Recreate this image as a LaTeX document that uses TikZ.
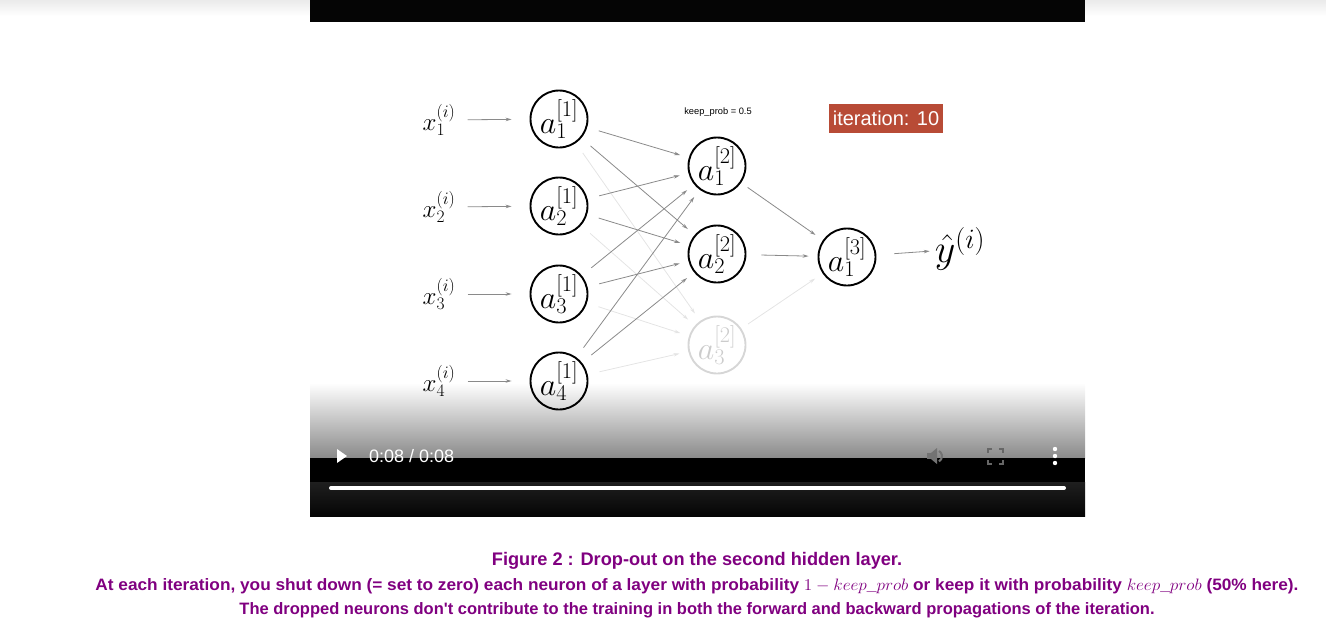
\RequirePackage{fix-cm}
\documentclass[tikz,border=0pt]{standalone}
\usepackage{fontspec}
\newfontfamily\capfont{Liberation Sans}
\usetikzlibrary{arrows.meta}
\definecolor{capcol}{HTML}{800080}
\definecolor{iterred}{HTML}{B84B36}
\definecolor{arrowgray}{HTML}{8A8A8A}
\definecolor{faintgray}{HTML}{E4E4E4}
\begin{document}
\begin{tikzpicture}[x=1pt,y=-1pt,
  neuron/.style={circle, draw=black, line width=1.9pt, minimum size=57pt, inner sep=0pt, font=\fontsize{32}{36}\selectfont},
  ghost/.style={neuron, draw=black!16, text=black!20},
  edge/.style={draw=arrowgray, line width=0.8pt, -{Stealth[length=6pt,width=3.5pt]}},
  faint/.style={edge, draw=faintgray},
  inlabel/.style={inner sep=0pt, font=\fontsize{25}{29}\selectfont},
  captext/.style={anchor=base, text=capcol, inner sep=0pt, font=\capfont\bfseries\fontsize{16.5}{19}\selectfont}]
\useasboundingbox (0,0) rectangle (1326,633);
% page top shade
\shade[top color=black!8, bottom color=white] (0,0) rectangle (1326,16);
% video frame
\fill[black!98] (310,0) rectangle (1085,22);
\shade[top color=white, bottom color=black!46] (310,383) rectangle (1085,458);
\fill[black] (310,458) rectangle (1085,482);
\shade[top color=black!88, bottom color=black!98] (310,482) rectangle (1085,516);
\draw[white, line width=4pt, line cap=round] (331,488) -- (1064,488);
% controls
\fill[white] (337,449) -- (347,456) -- (337,463) -- cycle;
\node[anchor=west, text=white, inner sep=0pt, font=\capfont\fontsize{18}{21}\selectfont] (time) at (369,456) {0:08 / 0:08};
\fill[black!55] (927,453) rectangle (931,459);
\fill[black!55] (931,453) -- (937,448) -- (937,464) -- (931,459) -- cycle;
\draw[black!55, line width=2pt] (939,451) arc[start angle=60, end angle=-60, radius=6pt];
\draw[black!60, line width=1.5pt] (988,453) -- (988,449) -- (992,449);
\draw[black!60, line width=1.5pt] (999,449) -- (1003,449) -- (1003,453);
\draw[black!60, line width=1.5pt] (988,460) -- (988,464) -- (992,464);
\draw[black!60, line width=1.5pt] (999,464) -- (1003,464) -- (1003,460);
\fill[white] (1055,449) circle[radius=2.2pt] (1055,456) circle[radius=2.2pt] (1055,463) circle[radius=2.2pt];
% inputs
\node[inlabel] (x1) at (439,120) {$x^{(i)}_1$};
\node[inlabel] (x2) at (439,207) {$x^{(i)}_2$};
\node[inlabel] (x3) at (439,294) {$x^{(i)}_3$};
\node[inlabel] (x4) at (439,381) {$x^{(i)}_4$};
% layer 1
\node[neuron] (L1) at (559,119) {$a^{[1]}_1$};
\node[neuron] (L2) at (559,206) {$a^{[1]}_2$};
\node[neuron] (L3) at (559,294) {$a^{[1]}_3$};
\node[neuron] (L4) at (559,381) {$a^{[1]}_4$};
% layer 2
\node[neuron] (M1) at (717,166) {$a^{[2]}_1$};
\node[neuron] (M2) at (717,254) {$a^{[2]}_2$};
\node[ghost]  (M3) at (717,345) {$a^{[2]}_3$};
% output
\node[neuron] (O) at (847,257) {$a^{[3]}_1$};
\node[inner sep=0pt, font=\fontsize{40}{44}\selectfont] (yh) at (960,249) {$\hat{y}^{(i)}$};
% labels
\node[inner sep=0pt, font=\capfont\fontsize{9.3}{11}\selectfont] (kp) at (718,112.5) {keep\_prob = 0.5};
\node[fill=iterred, text=white, minimum width=114pt, minimum height=29pt, inner sep=0pt, font=\capfont\fontsize{20}{24}\selectfont] (it) at (886,118.5) {iteration: 10};
% edges input
\foreach \i in {1,2,3,4} \draw[edge, shorten <=12pt, shorten >=18pt] (x\i) -- (L\i);
% layer1 -> layer2
\foreach \i in {1,2,3,4} {
  \draw[edge, shorten <=12pt, shorten >=9pt] (L\i) -- (M1);
  \draw[edge, shorten <=12pt, shorten >=9pt] (L\i) -- (M2);
  \draw[faint, shorten <=12pt, shorten >=9pt] (L\i) -- (M3);
}
% layer2 -> out
\draw[edge, shorten <=8pt, shorten >=9pt] (M1) -- (O);
\draw[edge, shorten <=15pt, shorten >=9pt] (M2) -- (O);
\draw[faint, shorten <=8pt, shorten >=9pt] (M3) -- (O);
\draw[edge, shorten <=18pt, shorten >=5pt] (O) -- (yh);
% caption
\node[captext, font=\capfont\bfseries\fontsize{18.2}{21}\selectfont] (c1) at (697,565) {Figure 2 : Drop-out on the second hidden layer.};
\node[captext] (c2) at (697,590) {\scalebox{1.045}[1]{At each iteration, you shut down (= set to zero) each neuron of a layer with probability $1 - keep\_prob$ or keep it with probability $keep\_prob$ (50\% here).}};
\node[captext] (c3) at (697,614) {The dropped neurons don't contribute to the training in both the forward and backward propagations of the iteration.};
\end{tikzpicture}
\end{document}
